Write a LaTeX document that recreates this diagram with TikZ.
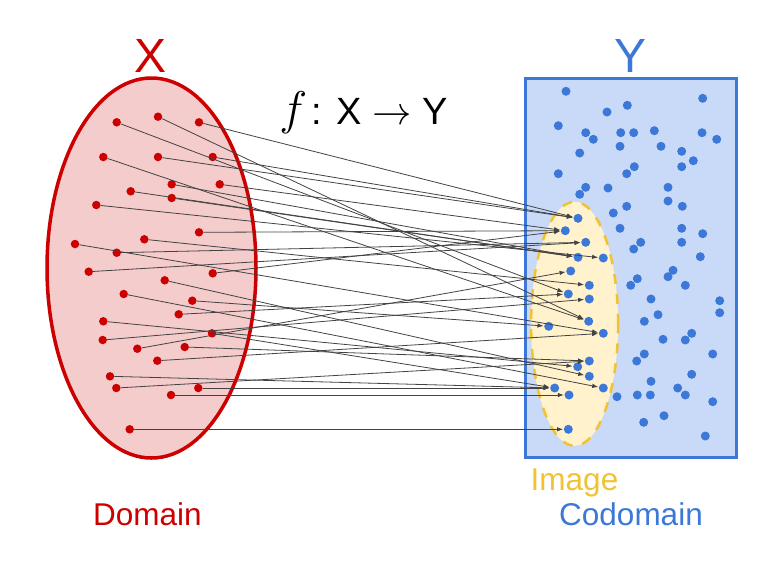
\documentclass[tikz,border=0pt]{standalone}
\usepackage{fontspec}
\setmainfont{Liberation Sans}
\usepackage{tikz}
\usetikzlibrary{arrows.meta, positioning, shapes.geometric}
\definecolor{myred}{HTML}{CC0000}
\definecolor{myredfill}{HTML}{F4CCCC}
\definecolor{myblue}{HTML}{3C78D8}
\definecolor{mybluefill}{HTML}{C9DAF8}
\definecolor{myyellow}{HTML}{F1C232}
\definecolor{myyellowfill}{HTML}{FFF2CC}
\definecolor{myline}{HTML}{434343}

\begin{document}
\begin{tikzpicture}[
    x=1pt, y=-1pt,
    dom_dot/.style={circle, fill=myred, minimum size=8.5pt, inner sep=0pt},
    cod_dot/.style={circle, fill=myblue, minimum size=9pt, inner sep=0pt},
    set_label/.style={anchor=base, font=\fontsize{48}{50}\selectfont},
    name_label/.style={anchor=base, font=\fontsize{31.5}{34}\selectfont},
    arrow/.style={-{Latex[length=6pt, width=4.5pt]}, line width=0.8pt, draw=myline, shorten >=0.5pt}
]
    \useasboundingbox (0,0) rectangle (783,568);

    % Domain and codomain sets
    \node[ellipse, draw=myred, fill=myredfill, line width=3.5pt, minimum width=209pt, minimum height=380pt, inner sep=0pt, outer sep=0pt] (domain) at (151.5,268) {};
    \draw[draw=myblue, fill=mybluefill, line width=3pt] (525.5,78.5) rectangle (736.5,457.5);
    \node[ellipse, draw=myyellow, fill=myyellowfill, line width=2.5pt, dash pattern=on 10pt off 10pt, minimum width=87pt, minimum height=244pt, inner sep=0pt] (image) at (574.6,323.8) {};

    % Titles and labels
    \node[set_label, text=myred] (xname) at (151,72) {X};
    \node[set_label, text=myblue] (yname) at (630,72) {Y};
    \node[anchor=base west, inner sep=0pt, scale=1.583, font=\fontsize{24}{26}\selectfont] (fname) at (279,124) {\scalebox{1.2}{$f$}\kern3pt: X $\rightarrow$ Y};
    \node[name_label, text=myred] (domname) at (147.5,525) {Domain};
    \node[name_label, text=myyellow] (imgname) at (574.5,490) {Image};
    \node[name_label, text=myblue] (codname) at (631,525) {Codomain};

    % Points of the domain
    \foreach \id/\xx/\yy in {1/116.7/122.3, 2/158/116.7, 3/199/122.3, 4/103.3/157, 5/158/157, 6/212.7/157, 7/171.7/184.3, 8/219.7/184.3,
        9/130.7/191.3, 10/171.7/198, 11/96.3/205, 12/199/232.3, 13/144.3/239.3, 14/75/244, 15/116.7/252.7, 16/88.7/271.7,
        17/212.7/273.3, 18/164.7/280.3, 19/123.7/294, 20/192.3/300.7, 21/178.7/314.3, 22/103.3/321.3, 23/212/333.3, 24/102.7/340,
        25/137.3/348.7, 26/184.7/347, 27/157.3/360.7, 28/110/376.3, 29/116.3/388, 30/198.3/388, 31/171/395, 32/129.7/429.3}
        \node[dom_dot] (d\id) at (\xx,\yy) {};

    % Points of the image
    \foreach \id/\xx/\yy in {1/578/218.3, 2/565.3/230.7, 3/585.7/242.3, 4/578/257.3, 5/603.3/258, 6/570.7/271, 7/589.3/285.3, 8/568.3/294,
        9/589.3/299, 10/588.7/321.3, 11/548.7/326.3, 12/603.3/333.3, 13/589.3/361, 14/577.7/366.7, 15/589.3/376.3, 16/554.7/388,
        17/603.3/388, 18/569/395, 19/568.3/429.3}
        \node[cod_dot] (i\id) at (\xx,\yy) {};

    % Rest of the codomain
    \foreach \id/\xx/\yy in {1/566/91.3, 2/702.7/98.3, 3/627.3/105.3, 4/607/112, 5/558.3/125.7, 6/585.7/132.7, 7/593.3/139.3, 8/620.7/132.7,
        9/633.7/132.7, 10/654.3/130.7, 11/702/132.7, 12/716.7/139.3, 13/620/146.3, 14/661/146.3, 15/579.7/153, 16/681.7/151.3,
        17/693.3/160.7, 18/681.7/166.7, 19/634.3/166.7, 20/626.7/173.7, 21/558.3/173.7, 22/585.7/187.3, 23/608/188, 24/668/187.3,
        25/579.7/194.3, 26/668/201, 27/682.3/206.3, 28/626.7/206.3, 29/613.3/213, 30/620/228.3, 31/681.7/228.3, 32/702.7/233.7,
        33/640.7/242.3, 34/633.7/249, 35/681.7/242.3, 36/700.3/256.7, 37/673/270.3, 38/668/276.7, 39/637.3/278.7, 40/630.7/285.3,
        41/685.3/285.3, 42/651/299, 43/719.7/300.7, 44/719.7/312.7, 45/658/314.7, 46/644.3/321.3, 47/691.7/333.3, 48/663/339.3,
        49/685.3/340, 50/644.3/354, 51/636.7/361, 52/712.7/354, 53/691.7/374.3, 54/651/381.3, 55/617/396.7, 56/637.3/395,
        57/650.3/395, 58/677.7/388, 59/685.3/395, 60/712.7/401.7, 61/664/415.7, 62/643.7/422.3, 63/705.3/436}
        \node[cod_dot] (c\id) at (\xx,\yy) {};

    % The mapping f
    \foreach \src/\dst in {1/8, 2/10, 3/1, 4/10, 5/1, 6/1, 7/4, 8/2, 9/4, 10/4, 11/5, 12/2, 13/7, 14/12, 15/3, 16/3,
        17/2, 18/15, 19/17, 20/11, 21/8, 22/14, 23/16, 24/9, 25/6, 26/13, 27/12, 28/16, 29/13, 30/16, 31/18, 32/19}
        \draw[arrow] (d\src) -- (i\dst);

\end{tikzpicture}
\end{document}
